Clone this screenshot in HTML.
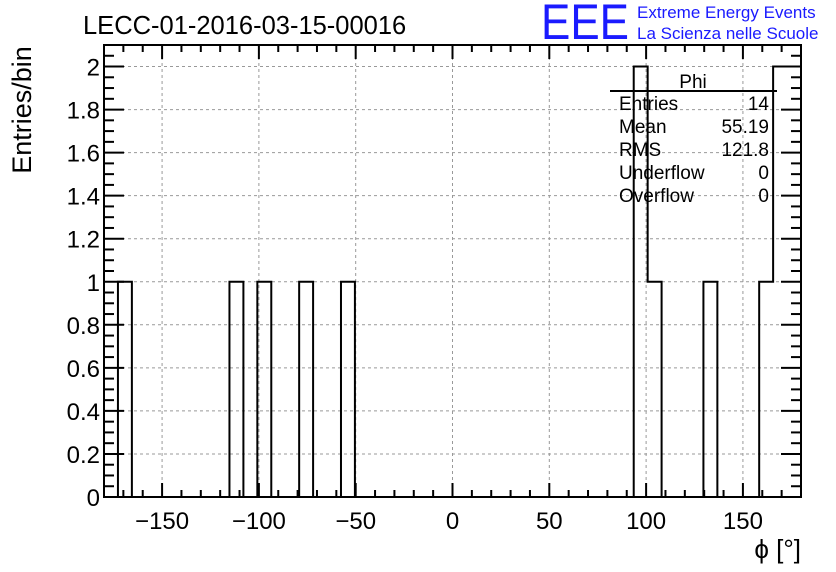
<!DOCTYPE html>
<html><head><meta charset="utf-8"><style>
body{margin:0;background:#fff}
svg{display:block;font-family:"Liberation Sans",sans-serif}
</style></head><body>
<svg id="c" width="836" height="572" xmlns="http://www.w3.org/2000/svg">
<rect width="836" height="572" fill="#fff"/>
<text x="83" y="34" font-size="25.5">LECC-01-2016-03-15-00016</text>
<text x="541" y="39" font-size="50" fill="#1a1aff" textLength="88" lengthAdjust="spacingAndGlyphs">EEE</text>
<text x="637" y="18" font-size="17" fill="#1a1aff">Extreme Energy Events</text>
<text x="637" y="39" font-size="17" fill="#1a1aff">La Scienza nelle Scuole</text>
<text transform="translate(31,110) rotate(-90)" text-anchor="middle" font-size="27">Entries/bin</text>
<text x="801" y="558" text-anchor="end" font-size="26">ϕ [°]</text>
<g id="grid"></g><g id="hist"></g><g id="axes"></g>
<g font-size="19">
<text x="693" y="88" text-anchor="middle">Phi</text>
<line x1="610" y1="91" x2="777" y2="91" stroke="#000" stroke-width="2"/>
<text x="619" y="110">Entries</text><text x="769" y="110" text-anchor="end">14</text>
<text x="619" y="133">Mean</text><text x="769" y="133" text-anchor="end">55.19</text>
<text x="619" y="156">RMS</text><text x="769" y="156" text-anchor="end">121.8</text>
<text x="619" y="179">Underflow</text><text x="769" y="179" text-anchor="end">0</text>
<text x="619" y="202">Overflow</text><text x="769" y="202" text-anchor="end">0</text>
</g>
</svg>
<script>
const binLow = -180;
const binWidth = 7.2;
const binIndex = [1, 9, 11, 14, 17, 38, 39, 43, 47, 48, 49];
const binCounts = [1, 1, 1, 1, 1, 2, 1, 1, 1, 2, 2];
const xTicks = [-150, -100, -50, 0, 50, 100, 150];
const xTickLabels = ["\u2212150", "\u2212100", "\u221250", "0", "50", "100", "150"];
const yTicks = [0, 0.2, 0.4, 0.6, 0.8, 1, 1.2, 1.4, 1.6, 1.8, 2];
const yTickLabels = ["0", "0.2", "0.4", "0.6", "0.8", "1", "1.2", "1.4", "1.6", "1.8", "2"];

const L=104,R=801,T=45,B=497,XMIN=-180,XMAX=180,YMAX=2.1;
const sx=v=>L+(v-XMIN)/(XMAX-XMIN)*(R-L);
const sy=v=>B-v/YMAX*(B-T);
const NS="http://www.w3.org/2000/svg";
function mk(tag,attrs,parent){const e=document.createElementNS(NS,tag);for(const k in attrs)e.setAttribute(k,attrs[k]);parent.appendChild(e);return e;}
const grid=document.getElementById('grid'),hist=document.getElementById('hist'),axes=document.getElementById('axes');
xTicks.forEach(v=>{const l=mk('line',{x1:sx(v),x2:sx(v),y1:T,y2:B,stroke:'#999','stroke-dasharray':'3,3'},grid);

});
yTicks.forEach(v=>{if(v===0)return;const l=mk('line',{x1:L,x2:R,y1:sy(v),y2:sy(v),stroke:'#999','stroke-dasharray':'3,3'},grid);

});
const nb=Math.round((XMAX-XMIN)/binWidth);const counts=new Array(nb).fill(0);
binIndex.forEach((b,i)=>counts[b]=binCounts[i]);
let d=`M${sx(XMIN)},${sy(0)}`;
for(let i=0;i<nb;i++){const x0=sx(binLow+i*binWidth),x1=sx(binLow+(i+1)*binWidth);d+=` L${x0},${sy(counts[i])} L${x1},${sy(counts[i])}`;}
d+=` L${sx(XMAX)},${sy(0)}`;
const p=mk('path',{d:d,fill:'none',stroke:'#000','stroke-width':2},hist);


binIndex.forEach((b,i)=>{const r=mk('rect',{x:sx(binLow+b*binWidth),y:sy(binCounts[i]),width:sx(binLow+(b+1)*binWidth)-sx(binLow+b*binWidth),height:sy(0)-sy(binCounts[i]),fill:'none'},hist);

});
const fr=mk('rect',{x:L,y:T,width:R-L,height:B-T,fill:'none',stroke:'#000','stroke-width':2},axes);


for(let v=-180;v<=180;v+=10){const maj=v%50===0;const len=maj?14:7;
mk('line',{x1:sx(v),x2:sx(v),y1:B,y2:B-len,stroke:'#000','stroke-width':2},axes);
mk('line',{x1:sx(v),x2:sx(v),y1:T,y2:T+len,stroke:'#000','stroke-width':2},axes);}
xTicks.forEach((v,i)=>{const t=mk('text',{x:sx(v),y:529,'text-anchor':'middle','font-size':24},axes);t.textContent=xTickLabels[i];

});
for(let k=0;k<=42;k++){const v=k*0.05;const maj=k%4===0;const len=maj?20:10;
mk('line',{x1:L,x2:L+len,y1:sy(v),y2:sy(v),stroke:'#000','stroke-width':2},axes);
mk('line',{x1:R,x2:R-len,y1:sy(v),y2:sy(v),stroke:'#000','stroke-width':2},axes);}
yTicks.forEach((v,i)=>{const t=mk('text',{x:100,y:sy(v)+9,'text-anchor':'end','font-size':24},axes);t.textContent=yTickLabels[i];

});
</script>
</body></html>
